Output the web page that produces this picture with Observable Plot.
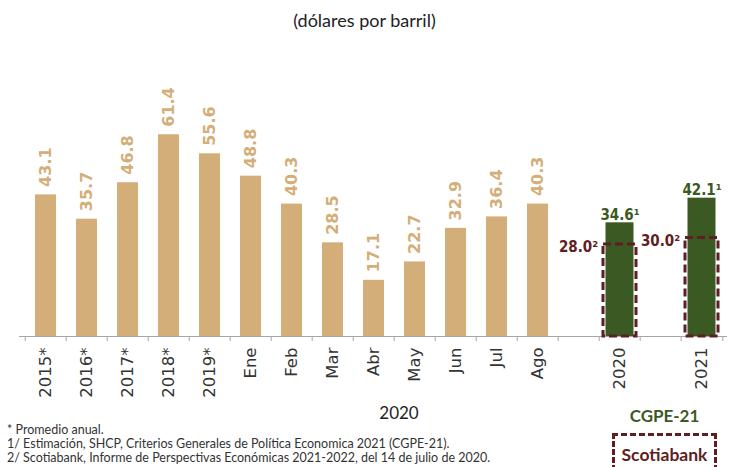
<!DOCTYPE html>
<html><head><meta charset="utf-8">
<script src="https://cdn.jsdelivr.net/npm/d3@7"></script>
<script src="https://cdn.jsdelivr.net/npm/@observablehq/plot@0.6"></script>
<style>
body{margin:0;background:#fff;width:729px;height:467px;overflow:hidden;position:relative;font-family:Lato,"Noto Sans",sans-serif}
#chart{position:absolute;left:0;top:0}
.abs{position:absolute;white-space:nowrap}
#notes{left:7px;top:423px;font-size:12.5px;line-height:14px;color:#333}
</style></head><body>
<div id="chart"></div>
<div class="abs" id="title" style="left:0;width:729px;top:9px;text-align:center;font-size:18px;color:#222"></div>
<div class="abs" id="group" style="left:369px;width:60px;top:402px;text-align:center;font-size:17px;color:#222"></div>
<div class="abs" id="leg1" style="left:612px;width:105px;top:405px;text-align:center;font-size:17px;font-weight:bold;color:#3b5a23"></div>
<div class="abs" id="leg2" style="left:612px;top:433px;width:99px;height:40px;border:3px dashed #5f1d24;text-align:center;font-size:17.5px;font-weight:bold;color:#5f1d24;line-height:38px"></div>
<div class="abs" id="notes"></div>
<script>
const titleText = "(dólares por barril)";
const groupLabel = "2020";
const legendLabels = ["CGPE-21", "Scotiabank"];
const categories = ["2015*","2016*","2017*","2018*","2019*","Ene","Feb","Mar","Abr","May","Jun","Jul","Ago","gap1","2020","gap2","2021"];
const historicalCats = ["2015*","2016*","2017*","2018*","2019*","Ene","Feb","Mar","Abr","May","Jun","Jul","Ago"];
const historicalValues = [43.1,35.7,46.8,61.4,55.6,48.8,40.3,28.5,17.1,22.7,32.9,36.4,40.3];
const forecastCats = ["2020","2021"];
const cgpeValues = [34.6,42.1];
const scotiaValues = [28.0,30.0];
const footnotes = [
  "* Promedio anual.",
  "1/ Estimación, SHCP, Criterios Generales de Política Economica 2021 (CGPE-21).",
  "2/ Scotiabank, Informe de Perspectivas Económicas 2021-2022, del 14 de julio de 2020."
];

const TAN = "#d4ae78", GREEN = "#3b5a23", MAROON = "#5f1d24", GRAY = "#a6a6a6";
const NARROW = "'DejaVu Sans Condensed','Liberation Sans Narrow',sans-serif";
const W = 729, H = 467, mL = 19, mR = 2, mT = 106, mB = 131;
const step = (W - mL - mR) / categories.length;

const hist = historicalCats.map((c, i) => ({c, v: historicalValues[i]}));
const cgpe = forecastCats.map((c, i) => ({c, v: cgpeValues[i]}));
const scotia = forecastCats.map((c, i) => ({c, v: scotiaValues[i]}));

const plot = Plot.plot({
  width: W, height: H, marginLeft: mL, marginRight: mR, marginTop: mT, marginBottom: mB,
  style: {fontFamily: "DejaVu Sans", fontSize: "16px", background: "#fff", color: "#333"},
  x: {domain: categories, padding: 0},
  y: {domain: [0, 70], axis: null},
  marks: [
    Plot.barY(hist, {x: "c", y: "v", fill: TAN, insetLeft: 10, insetRight: 10}),
    Plot.barY(cgpe, {x: "c", y: "v", fill: GREEN, insetLeft: 6.5, insetRight: 6.5}),
    Plot.ruleY([0], {stroke: GRAY}),
    Plot.ruleX(categories, {x: d => d, y1: 0, y2: 0, insetBottom: -5, dx: -step / 2, stroke: GRAY}),
    Plot.ruleX([categories[categories.length - 1]], {x: d => d, y1: 0, y2: 0, insetBottom: -5, dx: step / 2, stroke: GRAY}),
    Plot.axisX({tickSize: 0, tickPadding: 11, tickRotate: -90, label: null,
      tickFormat: d => d.startsWith("gap") ? "" : d, fontSize: 16.5, fill: "#333"}),
    Plot.barY(scotia, {x: "c", y: "v", fill: "none", stroke: MAROON, strokeWidth: 3,
      strokeDasharray: "8,4", insetLeft: 4, insetRight: 4}),
    Plot.text(hist, {x: "c", y: "v", text: d => d.v.toFixed(1), rotate: -90, textAnchor: "start",
      dy: -8, fill: TAN, fontWeight: "bold", fontSize: 16}),
    Plot.text(cgpe, {x: "c", y: "v", text: d => d.v.toFixed(1) + "¹", lineAnchor: "bottom",
      dy: -3, fill: GREEN, fontWeight: "bold", fontSize: 15, fontFamily: NARROW}),
    Plot.text(scotia, {x: "c", y: "v", text: d => d.v.toFixed(1) + "²", textAnchor: "end",
      dx: -(step / 2 - 4) - 5, dy: 3, fill: MAROON, fontWeight: "bold", fontSize: 15, fontFamily: NARROW})
  ]
});
document.getElementById("chart").appendChild(plot);
document.getElementById("title").textContent = titleText;
document.getElementById("group").textContent = groupLabel;
document.getElementById("leg1").textContent = legendLabels[0];
document.getElementById("leg2").textContent = legendLabels[1];
document.getElementById("notes").innerHTML = footnotes.map(f => `<div>${f}</div>`).join("");
</script>
</body></html>
